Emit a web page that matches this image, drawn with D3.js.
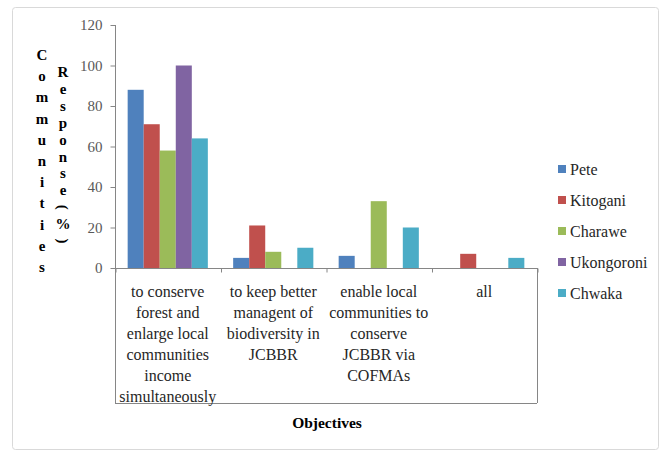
<!DOCTYPE html>
<html>
<head>
<meta charset="utf-8">
<script src="https://cdn.jsdelivr.net/npm/d3@7/dist/d3.min.js"></script>
<style>
  html, body { margin: 0; padding: 0; background: #fff; }
  svg { display: block; }
</style>
</head>
<body>
<svg id="chart" width="670" height="454"></svg>
<script>
// Objectives (x categories), wrapped over several lines
const categories = [
  ["to conserve", "forest and", "enlarge local", "communities", "income", "simultaneously"],
  ["to keep better", "managent of", "biodiversity in", "JCBBR"],
  ["enable local", "communities to", "conserve", "JCBBR via", "COFMAs"],
  ["all"]
];
const communities = ["Pete", "Kitogani", "Charawe", "Ukongoroni", "Chwaka"];
const colors = ["#4F81BD", "#C0504D", "#9BBB59", "#8064A2", "#4BACC6"];

// Response (%) per community, one value per objective
const pete       = [88, 5, 6, 0];
const kitogani   = [71, 21, 0, 7];
const charawe    = [58, 8, 33, 0];
const ukongoroni = [100, 0, 0, 0];
const chwaka     = [64, 10, 20, 5];
const seriesValues = [pete, kitogani, charawe, ukongoroni, chwaka];

const yTicks = [0, 20, 40, 60, 80, 100, 120];

const FONT = '"Liberation Serif", "Times New Roman", serif';

const svg = d3.select("#chart");

// outer chart border
svg.append("rect")
  .attr("x", 12.5).attr("y", 7.5).attr("width", 646).attr("height", 442)
  .attr("rx", 3)
  .attr("fill", "#fff").attr("stroke", "#d9d9d9").attr("stroke-width", 1);

const plotL = 115, plotR = 537, plotT = 25, plotBase = 268, boxBottom = 403;

const x0 = d3.scaleBand().domain(d3.range(categories.length)).range([plotL, plotR]).paddingInner(0.24).paddingOuter(0.12);
const x1 = d3.scaleBand().domain(d3.range(communities.length)).range([0, x0.bandwidth()]);
const xEdge = d3.scaleLinear().domain([0, categories.length]).range([plotL, plotR]);
const y = d3.scaleLinear().domain([0, 120]).range([plotBase, plotT]);

const ink = "#868686";

// bars
const groups = svg.append("g").selectAll("g")
  .data(categories.map((c, i) => i))
  .join("g")
  .attr("transform", i => `translate(${x0(i)},0)`);

groups.selectAll("rect")
  .data(i => seriesValues.map((vals, s) => ({ s, v: vals[i] })).filter(d => d.v > 0))
  .join("rect")
  .attr("x", d => x1(d.s))
  .attr("width", x1.bandwidth())
  .attr("y", d => y(d.v))
  .attr("height", d => plotBase - y(d.v))
  .attr("fill", d => colors[d.s]);

// y axis
const yAxis = d3.axisLeft(y).tickValues(yTicks).tickSize(5).tickPadding(8).tickFormat(d3.format("d"));
const gy = svg.append("g").attr("transform", `translate(${plotL + 0.5},0)`).call(yAxis)
  .attr("font-family", FONT).attr("font-size", 15);
gy.select(".domain").remove();
gy.selectAll(".tick line").attr("stroke", ink);
gy.selectAll(".tick text").attr("fill", "#595959");

// plot frame lines: y axis line, category axis, label box
const frame = svg.append("g").attr("stroke", ink).attr("fill", "none").attr("stroke-width", 1);
frame.append("line").attr("x1", plotL + 0.5).attr("x2", plotL + 0.5).attr("y1", plotT).attr("y2", boxBottom);
frame.append("line").attr("x1", plotL).attr("x2", plotR).attr("y1", plotBase + 0.5).attr("y2", plotBase + 0.5);
frame.append("line").attr("x1", plotR + 0.5).attr("x2", plotR + 0.5).attr("y1", plotBase).attr("y2", boxBottom);
frame.append("line").attr("x1", plotL).attr("x2", plotR).attr("y1", boxBottom + 0.5).attr("y2", boxBottom + 0.5);

// category tick marks
const xAxis = d3.axisBottom(xEdge).tickValues(d3.range(categories.length + 1)).tickSize(4).tickFormat("");
const gx = svg.append("g").attr("transform", `translate(0.5,${plotBase + 0.5})`).call(xAxis);
gx.select(".domain").remove();
gx.selectAll(".tick line").attr("stroke", ink);

// category labels
categories.forEach((lines, i) => {
  const cx = xEdge(i + 0.5);
  const t = svg.append("text")
    .attr("text-anchor", "middle")
    .attr("fill", "#262626")
    .attr("font-family", FONT)
    .attr("font-size", 16);
  lines.forEach((ln, k) => {
    t.append("tspan").attr("x", cx).attr("y", 297 + k * 21).text(ln);
  });
});

// x axis title
svg.append("text")
  .attr("x", 327).attr("y", 428)
  .attr("text-anchor", "middle")
  .attr("fill", "#000")
  .attr("font-family", FONT)
  .attr("font-size", 15.5).attr("font-weight", "bold")
  .text("Objectives");

// y axis title: two stacked columns of letters
function stacked(word, cx, y0, step) {
  const g = svg.append("g").attr("fill", "#000")
    .attr("font-family", FONT)
    .attr("font-size", 15).attr("font-weight", "bold");
  Array.from(word).forEach((ch, k) => {
    const cy = y0 + k * step;
    const t = g.append("text")
      .attr("text-anchor", "middle")
      .attr("dominant-baseline", "central")
      .text(ch);
    if (ch === "(" || ch === ")") {
      t.attr("transform", `translate(${cx},${cy}) rotate(90)`);
    } else {
      t.attr("x", cx).attr("y", cy);
    }
  });
}
stacked("Communities", 42, 55, 21.2);
stacked("Response(%)", 63, 72, 16.9);

// legend
const legend = svg.append("g")
  .attr("font-family", FONT).attr("font-size", 16)
  .selectAll("g")
  .data(communities)
  .join("g")
  .attr("transform", (d, i) => `translate(558,${169 + i * 31})`);
legend.append("rect").attr("x", 0).attr("y", -4).attr("width", 8).attr("height", 8)
  .attr("fill", (d, i) => colors[i]);
legend.append("text").attr("x", 12).attr("y", 0)
  .attr("dominant-baseline", "central")
  .attr("fill", "#262626")
  .text(d => d);
</script>
</body>
</html>
